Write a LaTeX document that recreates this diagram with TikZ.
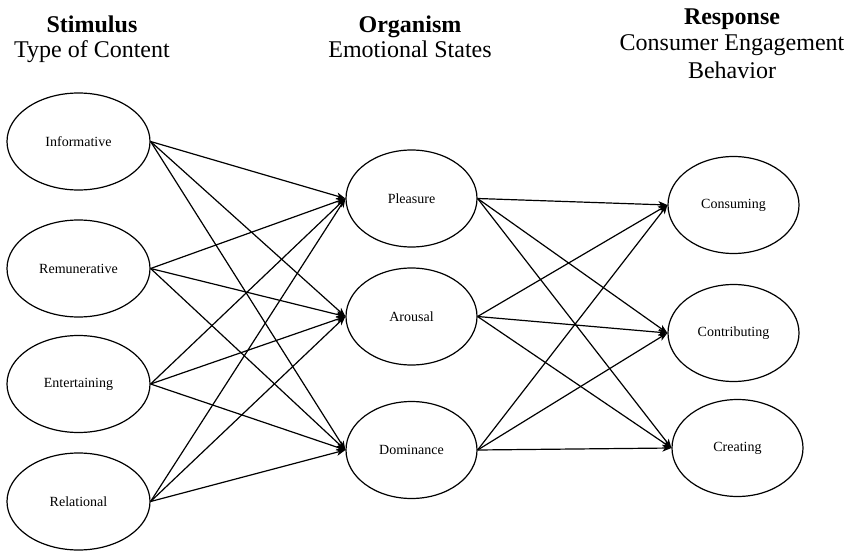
\documentclass[tikz,border=0pt]{standalone}
\usepackage{fontspec}
\setmainfont{Liberation Serif}
\usetikzlibrary{arrows.meta,shapes.geometric}
\begin{document}
\begin{tikzpicture}[x=1pt,y=-1pt,
  bubble/.style={draw, ellipse, line width=1.2pt, inner sep=0pt,
    minimum height=97pt, font=\fontsize{14}{16}\selectfont},
  leftbubble/.style={bubble, minimum width=143pt},
  midbubble/.style={bubble, minimum width=131pt},
  head/.style={anchor=base, font=\fontsize{24}{28}\selectfont\bfseries},
  sub/.style={anchor=base, font=\fontsize{24}{28}\selectfont},
  arr/.style={line width=1.2pt, -{Stealth[length=9pt,width=7pt,inset=2.5pt]}}]
\useasboundingbox (0,0) rectangle (857,551);

% headers
\node[head] (h1) at (92,33) {Stimulus};
\node[sub]  (h1b) at (92,58) {Type of Content};
\node[head] (h2) at (410,33) {Organism};
\node[sub]  (h2b) at (410,58) {Emotional States};
\node[head] (h3) at (732,25) {Response};
\node[sub]  (h3b) at (732,51) {Consumer Engagement};
\node[sub]  (h3c) at (732,78) {Behavior};

% stimulus
\node[leftbubble] (inf) at (78.5,141.5) {Informative};
\node[leftbubble] (rem) at (78.5,268.5) {Remunerative};
\node[leftbubble] (ent) at (78.5,384) {Entertaining};
\node[leftbubble] (rel) at (78.5,501.5) {Relational};

% organism
\node[midbubble] (ple) at (411.5,198.5) {Pleasure};
\node[midbubble] (aro) at (411.5,316.5) {Arousal};
\node[midbubble] (dom) at (411.5,450) {Dominance};

% response
\node[midbubble] (con) at (733.5,205) {Consuming};
\node[midbubble] (ctb) at (733.5,333) {Contributing};
\node[midbubble] (cre) at (737.5,448) {Creating};

\foreach \s in {inf,rem,ent,rel}
  \foreach \t in {ple,aro,dom}
    \draw[arr] (\s.east) -- (\t.west);

\foreach \s in {ple,aro,dom}
  \foreach \t in {con,ctb,cre}
    \draw[arr] (\s.east) -- (\t.west);
\end{tikzpicture}
\end{document}
